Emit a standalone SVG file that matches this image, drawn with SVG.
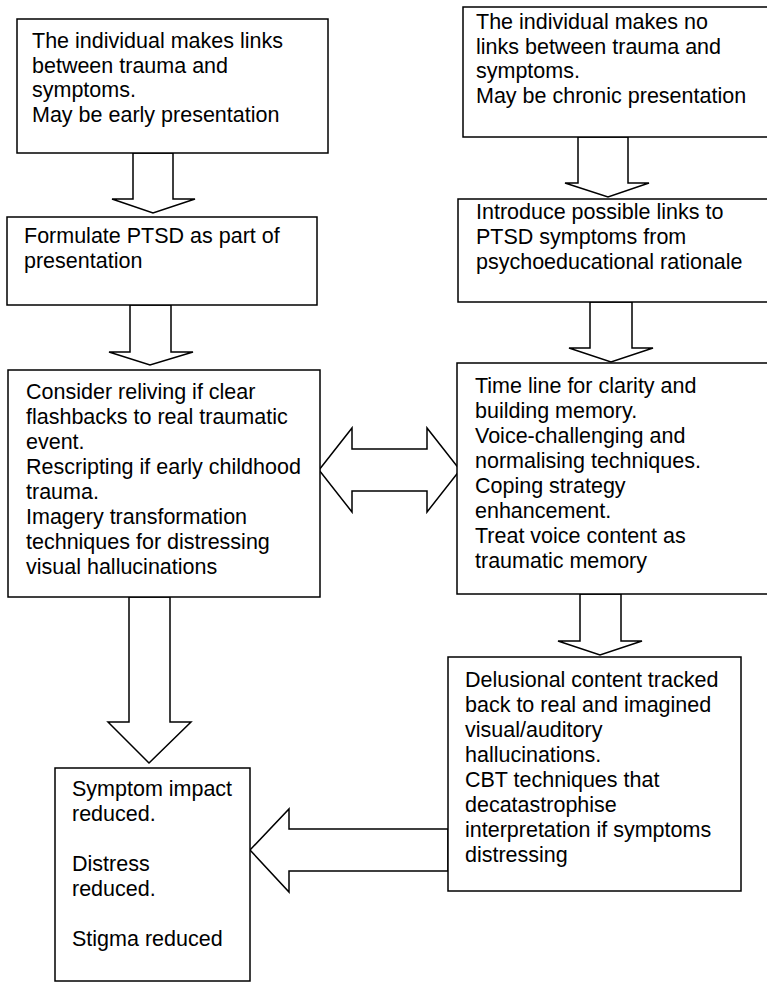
<svg xmlns="http://www.w3.org/2000/svg" width="767" height="982" viewBox="0 0 767 982">
<style>
.box{fill:#fff;stroke:#000;stroke-width:1.5}
.arr{fill:#fff;stroke:#000;stroke-width:1.5;stroke-linejoin:miter}
text{font-family:"Liberation Sans",Arial,sans-serif;font-size:21.5px;fill:#000}
</style>
<rect width="767" height="982" fill="#fff"/>
<g id="connectors">
<polygon class="arr" points="133,153 173,153 173,199 195,199 153,213 112,199 133,199"/>
<polygon class="arr" points="130,305 171,305 171,352 193,352 150,365 109,352 130,352"/>
<polygon class="arr" points="129,597 170,597 170,722 191,722 149,763 108,722 129,722"/>
<polygon class="arr" points="319,470 352,428 352,449 427,449 427,428 460,470 427,512 427,491 352,491 352,512"/>
<polygon class="arr" points="578,137 628,137 628,183 649,183 608,197 565,183 578,183"/>
<polygon class="arr" points="590,302 632,302 632,348 653,348 611,362 569,348 590,348"/>
<polygon class="arr" points="580,594 621,594 621,641 642,641 600,655 558,641 580,641"/>
<polygon class="arr" points="448,829 289,829 289,809 250,850 289,892 289,871 448,871"/>
</g>
<g id="n1">
<rect class="box" x="17" y="19" width="311" height="134"/>
<text x="32" y="48">The individual makes links</text>
<text x="32" y="72.5">between trauma and</text>
<text x="32" y="97">symptoms.</text>
<text x="32" y="121.5">May be early presentation</text>
</g>
<g id="n2">
<rect class="box" x="7" y="217" width="310" height="88"/>
<text x="24" y="243">Formulate PTSD as part of</text>
<text x="24" y="267.5">presentation</text>
</g>
<g id="n3">
<rect class="box" x="8" y="370" width="312" height="227"/>
<text x="26" y="399">Consider reliving if clear</text>
<text x="26" y="424">flashbacks to real traumatic</text>
<text x="26" y="449">event.</text>
<text x="26" y="474">Rescripting if early childhood</text>
<text x="26" y="499">trauma.</text>
<text x="26" y="524">Imagery transformation</text>
<text x="26" y="549">techniques for distressing</text>
<text x="26" y="574">visual hallucinations</text>
</g>
<g id="n4">
<rect class="box" x="55" y="768" width="195" height="213"/>
<text x="72" y="796">Symptom impact</text>
<text x="72" y="821">reduced.</text>
<text x="72" y="871">Distress</text>
<text x="72" y="896">reduced.</text>
<text x="72" y="946">Stigma reduced</text>
</g>
<g id="n5">
<rect class="box" x="463" y="7" width="310" height="130"/>
<text x="476" y="29">The individual makes no</text>
<text x="476" y="53.5">links between trauma and</text>
<text x="476" y="78">symptoms.</text>
<text x="476" y="102.5">May be chronic presentation</text>
</g>
<g id="n6">
<rect class="box" x="458" y="199" width="315" height="103"/>
<text x="476" y="219">Introduce possible links to</text>
<text x="476" y="244">PTSD symptoms from</text>
<text x="476" y="269">psychoeducational rationale</text>
</g>
<g id="n7">
<rect class="box" x="457" y="363" width="316" height="231"/>
<text x="475" y="393">Time line for clarity and</text>
<text x="475" y="418">building memory.</text>
<text x="475" y="443">Voice-challenging and</text>
<text x="475" y="468">normalising techniques.</text>
<text x="475" y="493">Coping strategy</text>
<text x="475" y="518">enhancement.</text>
<text x="475" y="543">Treat voice content as</text>
<text x="475" y="568">traumatic memory</text>
</g>
<g id="n8">
<rect class="box" x="448" y="657" width="293" height="234"/>
<text x="465" y="687">Delusional content tracked</text>
<text x="465" y="712">back to real and imagined</text>
<text x="465" y="737">visual/auditory</text>
<text x="465" y="762">hallucinations.</text>
<text x="465" y="787">CBT techniques that</text>
<text x="465" y="812">decatastrophise</text>
<text x="465" y="837">interpretation if symptoms</text>
<text x="465" y="862">distressing</text>
</g>
</svg>
